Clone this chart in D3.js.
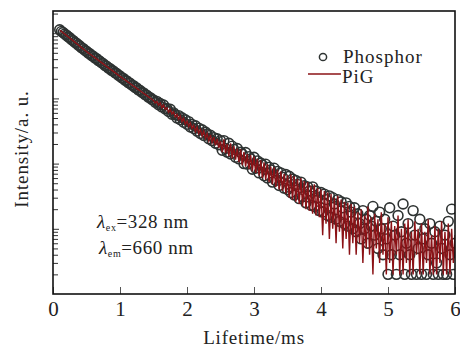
<!DOCTYPE html>
<html lang="en">
<head>
<meta charset="utf-8" />
<title>Lifetime decay</title>
<style>
html, body {
	margin: 0;
	padding: 0;
	background: #fff;
}
svg {
	display: block;
}
text {
	font-family: "Liberation Serif", "DejaVu Serif", serif;
	fill: #222;
}
</style>
</head>
<body>
<svg width="460" height="348"></svg>

<script src="https://cdn.jsdelivr.net/npm/d3@7/dist/d3.min.js"></script>
<script>
// sample grid of the decay (ms)
var t0 = 0.1;
var dt = 0.025;

// Phosphor counts (circles)
var phosphor = [
	11300, 10650, 10250, 9700, 9350, 8800, 8500, 8000, 7700, 7280, 7020, 6620, 6380, 6000, 5800, 5460, 5280, 4980, 4840, 4560,
	4430, 4180, 4070, 3830, 3720, 3510, 3410, 3210, 3120, 2940, 2860, 2690, 2630, 2470, 2410, 2260, 2210, 2070, 2030, 1900,
	1860, 1740, 1710, 1600, 1570, 1470, 1445, 1350, 1325, 1240, 1215, 1140, 1118, 1045, 1028, 960, 945,
	870, 900, 800, 835, 740, 790, 690, 700, 630, 680, 570, 600, 560, 500, 545, 470, 505, 430, 470, 400,
	440, 365, 400, 345, 380, 315, 350, 290, 330, 270, 305, 285, 240, 272, 225, 250, 205, 240, 195, 225,
	160, 225, 170, 150, 205, 140, 185, 165, 125, 170, 118, 150, 140, 100, 148, 98, 128, 118, 82, 125,
	85, 110, 72, 102, 95, 65, 98, 60, 88, 80, 52, 85, 55, 76, 46, 72, 62, 42, 68, 40,
	64, 36, 58, 33, 55, 48, 29, 52, 31, 46, 25, 44, 38, 23, 44, 22, 38, 30, 19, 36,
	18, 34, 28, 16, 32, 15, 30, 24, 14, 28, 13, 26, 21, 12, 25, 11, 22, 18, 10, 21,
	9, 17, 12, 7, 19, 10, 14, 6, 16, 11, 22, 8, 13, 5, 18, 10, 4, 14, 7, 2,
	21, 4, 11, 8, 2, 16, 4, 9, 24, 2, 6, 12, 4, 2, 19, 8, 2, 5, 14, 2,
	7, 10, 2, 4, 12, 6, 2, 9, 3, 2, 11, 5, 2, 8, 2, 13, 4, 20, 2, 6
];

// PiG counts (line)
var pig = [
	11100, 10650, 10150, 9700, 9250, 8820, 8420, 8030, 7650, 7300, 6960, 6640, 6330, 6040, 5760, 5490, 5240, 5000, 4790, 4590,
	4390, 4210, 4030, 3860, 3690, 3530, 3380, 3230, 3090, 2960, 2830, 2710, 2600, 2490, 2380, 2280, 2180, 2090, 2000, 1920,
	1840, 1760, 1690, 1620, 1550, 1490, 1425, 1365, 1310, 1255, 1200, 1150, 1105, 1055, 1015, 970, 930,
	850, 900, 790, 850, 720, 790, 680, 720, 610, 680, 580, 620, 520, 570, 480, 540, 440, 495, 400, 450,
	370, 420, 345, 385, 310, 365, 290, 335, 265, 315, 245, 290, 225, 275, 210, 255, 190, 240, 175, 220,
	150, 235, 145, 200, 130, 205, 120, 185, 115, 170, 105, 165, 95, 150, 90, 140, 82, 135, 76, 128,
	72, 118, 66, 112, 60, 105, 56, 98, 52, 90, 48, 88, 44, 80, 40, 76, 38, 70, 35, 66,
	30, 68, 28, 64, 26, 58, 24, 60, 22, 54, 20, 52, 19, 46, 17, 48, 16, 42, 15, 40,
	8, 38, 12, 36, 7, 34, 10, 30, 6, 32, 9, 28, 5, 26, 7, 25, 4, 24, 6, 22,
	4, 18, 6, 20, 3, 16, 5, 22, 4, 15, 2, 17, 5, 14, 3, 18, 4, 12, 2, 15,
	3, 13, 2, 11, 4, 16, 2, 10, 2, 12, 3, 14, 2, 9, 2, 13, 4, 10, 2, 12,
	2, 9, 3, 14, 2, 8, 2, 11, 2, 10, 3, 13, 2, 9, 2, 12, 2, 10, 3, 8
];

var xTicks = [0, 1, 2, 3, 4, 5, 6];
var xLabel = "Lifetime/ms";
var yLabel = "Intensity/a. u.";
var legendNames = ["Phosphor", "PiG"];

(function main() {
	var svg = d3.select("svg");

	var pl = 53, pr = 455, pt = 11, pb = 294; // plot box

	var x = d3.scaleLinear().domain([0, 6]).range([pl, pr]);
	var y = d3.scaleLog().domain([1, 21900]).range([pb, pt]);

	function tAt(i) { return t0 + i * dt; }

	svg.append("clipPath").attr("id", "plot")
		.append("rect")
		.attr("x", pl).attr("y", pt)
		.attr("width", pr - pl).attr("height", pb - pt);

	var plot = svg.append("g").attr("clip-path", "url(#plot)");

	// phosphor circles
	plot.selectAll("circle")
		.data(phosphor)
		.enter()
		.append("circle")
		.attr("cx", function(d, i){ return x(tAt(i)); })
		.attr("cy", function(d){ return y(d); })
		.attr("r", 4.9)
		.attr("fill", "none")
		.attr("stroke", "#2e3332")
		.attr("stroke-width", 1.6);

	// PiG line
	var line = d3.line()
		.x(function(d, i){ return x(tAt(i)); })
		.y(function(d){ return y(d); });

	plot.append("path")
		.datum(pig)
		.attr("d", line)
		.attr("fill", "none")
		.attr("stroke", "#8b1216")
		.attr("stroke-width", 1.4);

	// x axis (ticks inside)
	var xAxis = svg.append("g")
		.attr("transform", "translate(0," + pb + ")")
		.call(d3.axisBottom(x).tickValues(xTicks).tickFormat(d3.format("d"))
			.tickSizeInner(-7).tickSizeOuter(0).tickPadding(7));
	xAxis.select(".domain").remove();
	xAxis.selectAll("line").attr("stroke", "#555");
	xAxis.selectAll("text")
		.attr("font-size", 21)
		.attr("fill", "#222")
		.style("font-family", "'Liberation Serif', serif");

	// y axis: log ticks on the left, no labels
	var yTickVals = y.ticks().filter(function(v){ return v > 1; });
	var yAxis = svg.append("g")
		.attr("transform", "translate(" + pl + ",0)")
		.call(d3.axisLeft(y).tickValues(yTickVals).tickFormat("").tickSizeOuter(0));
	yAxis.select(".domain").remove();
	yAxis.selectAll(".tick line")
		.attr("x2", function(d){
			var m = Math.abs(Math.log10(d) - Math.round(Math.log10(d))) < 1e-6;
			return m ? 6 : 5;
		})
		.attr("stroke", "#333");

	// frame
	svg.append("rect")
		.attr("x", pl).attr("y", pt)
		.attr("width", pr - pl).attr("height", pb - pt)
		.attr("fill", "none")
		.attr("stroke", "#111")
		.attr("stroke-width", 1.6);

	// axis titles
	svg.append("text")
		.attr("x", (pl + pr) / 2)
		.attr("y", 344)
		.attr("text-anchor", "middle")
		.attr("font-size", 19)
		.attr("letter-spacing", 0.8)
		.text(xLabel);

	svg.append("text")
		.attr("transform", "translate(28," + 149 + ") rotate(-90)")
		.attr("text-anchor", "middle")
		.attr("font-size", 19)
		.attr("letter-spacing", 0.9)
		.text(yLabel);

	// legend
	var lg = svg.append("g").attr("font-size", 19).attr("letter-spacing", 1);
	lg.append("circle")
		.attr("cx", 323).attr("cy", 57).attr("r", 3.6)
		.attr("fill", "none").attr("stroke", "#2e3332").attr("stroke-width", 1.5);
	lg.append("text").attr("x", 343).attr("y", 63).text(legendNames[0]);
	lg.append("line")
		.attr("x1", 308).attr("x2", 341).attr("y1", 74).attr("y2", 74)
		.attr("stroke", "#8b1216").attr("stroke-width", 1.3);
	lg.append("text").attr("x", 342).attr("y", 83).text(legendNames[1]);

	// excitation / emission note
	var note = svg.append("g").attr("font-size", 19).attr("letter-spacing", 0.6);
	var n1 = note.append("text").attr("x", 97).attr("y", 228);
	n1.append("tspan").style("font-style", "italic").text("λ");
	n1.append("tspan").attr("font-size", 10).attr("dy", 3).text("ex");
	n1.append("tspan").attr("dy", -3).text("=328 nm");
	var n2 = note.append("text").attr("x", 99).attr("y", 254);
	n2.append("tspan").style("font-style", "italic").text("λ");
	n2.append("tspan").attr("font-size", 10).attr("dy", 3).text("em");
	n2.append("tspan").attr("dy", -3).text("=660 nm");
})();
</script>
</body>
</html>
